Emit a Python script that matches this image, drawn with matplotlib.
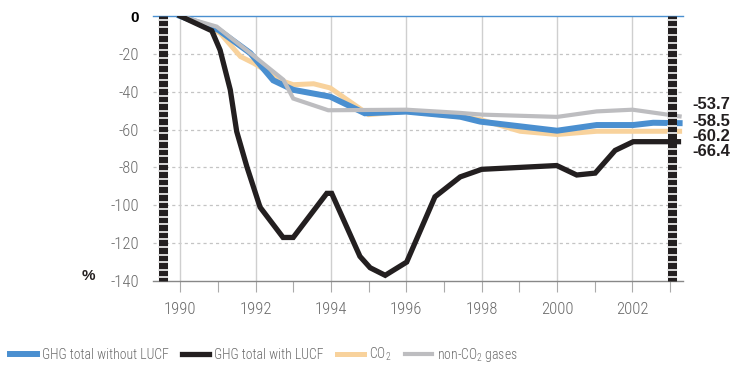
import matplotlib
matplotlib.use("Agg")
import matplotlib.pyplot as plt
from matplotlib.ticker import FixedLocator
from matplotlib.transforms import blended_transform_factory

plt.rcParams['font.family'] = ['Roboto Condensed', 'Barlow Condensed', 'Liberation Sans Narrow', 'DejaVu Sans']
plt.rcParams['font.weight'] = 'light'
plt.rcParams['mathtext.fontset'] = 'custom'
plt.rcParams['mathtext.rm'] = 'Roboto Condensed:light'

# series (year, % change from 1990)
noluc_x = [1990, 1991.02, 1991.86, 1992.47, 1993.0, 1993.98, 1994.9, 1996.0,
           1997.43, 1997.96, 2000.0, 2001.05, 2002.02, 2002.55, 2003.25]
noluc_y = [0, -7.4, -19.6, -34, -39, -42.6, -51.4, -50.5,
           -53.2, -55.8, -60.6, -57.6, -57.6, -56.4, -56.6]

luc_x = [1990, 1990.84, 1991.06, 1991.33, 1991.5, 1991.77, 1992.12, 1992.73,
         1993.0, 1993.89, 1994.02, 1994.77, 1995.04, 1995.44, 1996.01, 1996.76,
         1997.43, 1998.0, 1999.99, 2000.52, 2001.01, 2001.54, 2002.02, 2003.22]
luc_y = [0, -7.8, -18, -39, -61, -79.6, -101, -117,
         -117, -93.7, -93.7, -127, -133, -137, -130, -95.5,
         -85, -81, -79, -84, -83, -71, -66.4, -66.4]

co2_x = [1990, 1991.06, 1991.6, 1991.95, 1992.75, 1993.0, 1993.54, 1993.98,
         1995.0, 1996.0, 1997.43, 1997.96, 1999.02, 2000.0, 2001.05, 2002.0, 2003.25]
co2_y = [0, -9, -21.4, -24.9, -34.6, -36.3, -35.8, -38,
         -52.1, -50.4, -53.3, -54.7, -60.9, -62.6, -60.9, -60.9, -60.9]

nonco2_x = [1990, 1990.97, 1991.86, 1992.74, 1993.0, 1993.93, 1996.0, 1997.43,
            1998.0, 2000.0, 2001.05, 2002.0, 2003.25]
nonco2_y = [0, -5.6, -19.6, -33.7, -43.6, -49.8, -49.5, -51.2,
            -52.1, -53.3, -50.4, -49.5, -53.0]

end_labels = ['-53.7', '-58.5', '-60.2', '-66.4']
end_label_y = [-46.8, -55.8, -63.7, -71.6]   # stacked so they don't overlap

blue = '#4a8fd0'
black = '#231f20'
peach = '#f8d29c'
grey = '#bdbdc0'
txt = '#6a6a6a'
bold_font = ['Liberation Sans', 'DejaVu Sans']

fig = plt.figure(figsize=(7.34, 3.70), dpi=100)
ax = fig.add_axes([153 / 734, 89 / 370, 530 / 734, 265 / 370])

ax.set_xlim(1989.28, 2003.34)
ax.set_ylim(-140, 0)

for s in ['top', 'right', 'left']:
    ax.spines[s].set_visible(False)
ax.spines['bottom'].set_color('#888888')
ax.spines['bottom'].set_linewidth(1.0)

ax.xaxis.set_major_locator(FixedLocator(range(1990, 2003, 2)))
ax.xaxis.set_minor_locator(FixedLocator(range(1991, 2004, 2)))
ax.tick_params(axis='x', which='both', direction='out', length=8, width=0.8,
               color='#aaaaaa', labelsize=12, labelcolor=txt, pad=7)
ax.tick_params(axis='y', length=0, labelsize=12, labelcolor=txt, pad=10)
ax.set_yticks(range(-140, 1, 20))
ax.set_yticklabels([str(v) for v in range(-140, 1, 20)])
for lab in ax.get_yticklabels():
    if lab.get_text() == '0':
        lab.set_color('black')
        lab.set_fontweight('bold')
        lab.set_family(bold_font)
        lab.set_fontsize(11)

# grid: dashed horizontal, solid vertical at even years
for v in range(-120, 0, 20):
    ax.axhline(v, color='#c4c4c4', lw=0.9, ls=(0, (2.5, 2.5)), zorder=1)
for yr in range(1990, 2003, 2):
    ax.axvline(yr, color='#cfcfcf', lw=1.0, zorder=1)
ax.axhline(0, color=blue, lw=1.0, zorder=2, clip_on=False)

# axis-break bars
for bx in [1989.54, 2003.06]:
    ax.plot([bx, bx], [0, -140], color=black, lw=6.5, solid_capstyle='butt',
            zorder=6, clip_on=False)
    ax.plot([bx] * 35, [-2 - 4 * i for i in range(35)], ls='none', marker='_',
            ms=6.5, mew=1.3, color='#e6e6e6', zorder=7, clip_on=False)

l1, = ax.plot(co2_x, co2_y, color=peach, lw=3.6, zorder=3, solid_joinstyle='miter')
l2, = ax.plot(noluc_x, noluc_y, color=blue, lw=4.3, zorder=4, solid_joinstyle='miter')
l3, = ax.plot(nonco2_x, nonco2_y, color=grey, lw=3.0, zorder=5, solid_joinstyle='miter')
l4, = ax.plot(luc_x, luc_y, color=black, lw=3.8, zorder=8, solid_joinstyle='miter')

tr = blended_transform_factory(ax.transAxes, ax.transData)
for lab, yy in zip(end_labels, end_label_y):
    ax.text(1.017, yy, lab, transform=tr, ha='left', va='center', family=bold_font,
            fontsize=12, fontweight='bold', color=black)

fig.text(82 / 734, 1 - 276 / 370, '%', ha='left', va='center', fontsize=11,
         fontweight='bold', color=black, family=bold_font)

fig.legend([l2, l4, l1, l3],
           ['GHG total without LUCF', 'GHG total with LUCF', 'CO$_2$', 'non-CO$_2$ gases'],
           loc='center left', bbox_to_anchor=(0.008, 1 - 355 / 370), ncol=4, frameon=False,
           fontsize=9.9, handlelength=1.96, handletextpad=0.36, columnspacing=1.0,
           borderaxespad=0, borderpad=0.3, labelcolor=txt)

fig.savefig('out.png', dpi=100)
